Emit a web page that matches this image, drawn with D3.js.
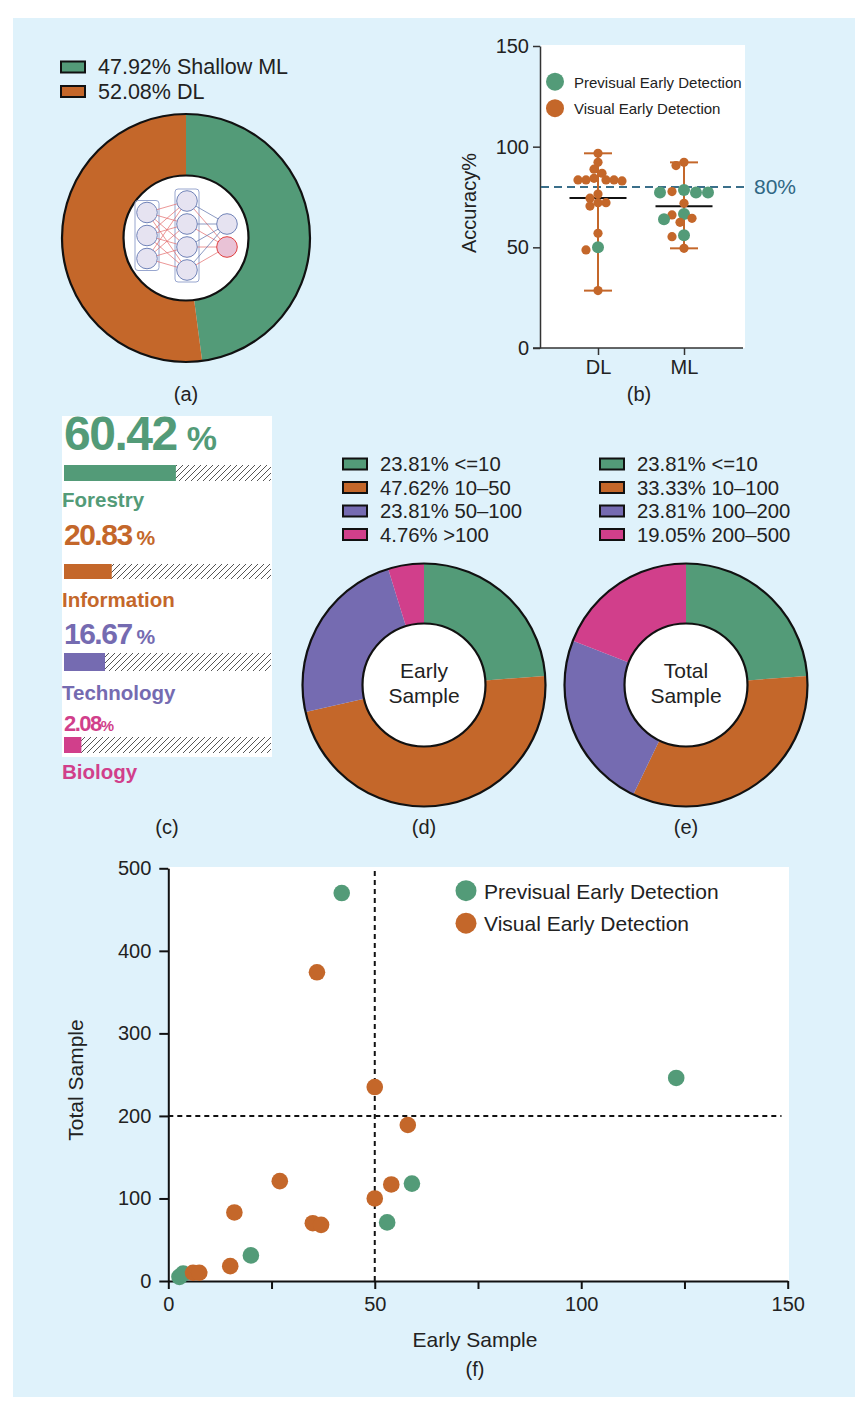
<!DOCTYPE html>
<html>
<head>
<meta charset="utf-8">
<script src="https://cdn.jsdelivr.net/npm/d3@7"></script>
<style>
  body { margin: 0; background: #fff; }
  svg text { font-family: "Liberation Sans", Arial, Helvetica, sans-serif; fill: #222; }
</style>
</head>
<body>
<div id="chart"></div>
<script>
// (a) share of methods
const methodLabels = ["Shallow ML", "DL"];
const methodShares = [47.92, 52.08];
const nnLayers = [3, 4, 2]; // little network drawn in the hole

// (b) reported accuracy per study
const accGroups = ["DL", "ML"];
const dlPrevisual = [50];
const dlVisual = [96.7, 92.2, 88.8, 86.8, 84.3, 83.5, 83.5, 83.5, 83.5, 83, 76.5, 74.4, 72.2, 72.2, 70.5, 57, 48.7, 28.5];
const mlPrevisual = [78.5, 77.2, 77.2, 77.2, 66.6, 63.9, 56];
const mlVisual = [92.2, 90.6, 77.7, 71.9, 66.1, 64.4, 62.4, 55.3, 49.5];
const accTicks = [0, 50, 100, 150];
const accThreshold = 80;

// (c) application fields
const fieldNames = ["Forestry", "Information", "Technology", "Biology"];
const fieldShares = [60.42, 20.83, 16.67, 2.08];

// (d) early sample size
const earlyBins = ["<=10", "10–50", "50–100", ">100"];
const earlyShares = [23.81, 47.62, 23.81, 4.76];

// (e) total sample size
const totalBins = ["<=10", "10–100", "100–200", "200–500"];
const totalShares = [23.81, 33.33, 23.81, 19.05];

// (f) early vs total sample
const seriesNames = ["Previsual Early Detection", "Visual Early Detection"];
const previsualEarly = [42, 20, 2.7, 3.6, 53, 59, 123];
const previsualTotal = [470, 31, 5, 9, 71, 118, 246];
const visualEarly = [36, 50, 58, 27, 54, 50, 16, 35, 37, 15, 6, 7.5];
const visualTotal = [374, 235, 189, 121, 117, 100, 83, 70, 68, 18, 10, 10];
const earlyTicks = [0, 25, 50, 75, 100, 125, 150];
const totalTicks = [0, 100, 200, 300, 400, 500];

const green = "#539b78", orange = "#c4672a", purple = "#756bb1", pink = "#d13f8b";
const palette = [green, orange, purple, pink];

const svg = d3.select("#chart").append("svg")
    .attr("width", 868)
    .attr("height", 1406);

svg.append("rect")
    .attr("x", 13).attr("y", 18)
    .attr("width", 842).attr("height", 1379)
    .attr("fill", "#dff2fb");

// hatch for the bars in (c)
svg.append("defs").append("pattern")
    .attr("id", "hatch")
    .attr("patternUnits", "userSpaceOnUse")
    .attr("width", 6).attr("height", 6)
    .append("path")
    .attr("d", "M0,6 L6,0 M-1.5,1.5 L1.5,-1.5 M4.5,7.5 L7.5,4.5")
    .attr("stroke", "#555")
    .attr("stroke-width", 1);

function panelLabel(x, y, t) {
    svg.append("text")
        .attr("x", x).attr("y", y)
        .attr("text-anchor", "middle")
        .attr("font-size", "20px")
        .text(t);
}

function donut(cx, cy, shares, rOuter, rInner) {
    const g = svg.append("g").attr("transform", `translate(${cx},${cy})`);
    const arcs = d3.pie().sort(null)(shares);
    const arc = d3.arc().innerRadius(rInner).outerRadius(rOuter);
    g.selectAll("path.slice")
        .data(arcs)
        .join("path")
        .attr("class", "slice")
        .attr("d", arc)
        .attr("fill", (d, i) => palette[i]);
    g.append("circle").attr("r", rOuter)
        .attr("fill", "none").attr("stroke", "#111").attr("stroke-width", 2.2);
    g.append("circle").attr("r", rInner)
        .attr("fill", "#fff").attr("stroke", "#111").attr("stroke-width", 2.2);
    return g;
}

function boxLegend(x, y0, step, labels, size) {
    const g = svg.append("g");
    const rows = g.selectAll("g").data(labels).join("g")
        .attr("transform", (d, i) => `translate(${x},${y0 + i * step})`);
    rows.append("rect")
        .attr("x", 0).attr("y", -5.5)
        .attr("width", 24).attr("height", 11)
        .attr("fill", (d, i) => palette[i])
        .attr("stroke", "#111").attr("stroke-width", 2);
    rows.append("text")
        .attr("x", 37).attr("y", 7)
        .attr("font-size", size + "px")
        .text(d => d);
}

const pct = v => v.toFixed(2) + "%";

// ---------- (a)
const gA = donut(186, 238, methodShares, 124, 62.5);
boxLegend(61, 67, 24.5, methodLabels.map((m, i) => pct(methodShares[i]) + " " + m), 21.5);

// network sketch
const nnX = d3.scalePoint().domain(d3.range(nnLayers.length)).range([-39, 41]);
const nodes = [];
nnLayers.forEach((n, l) => {
    d3.range(n).forEach(j => nodes.push({ l, j, x: nnX(l), y: -2.5 + (j - (n - 1) / 2) * 23 }));
});
const edges = [];
nodes.forEach(a => nodes.forEach(b => { if (b.l === a.l + 1) edges.push({ a, b }); }));

nnLayers.slice(0, 2).forEach((n, l) => {
    const h = (n - 1) * 23 + 24;
    gA.append("rect")
        .attr("x", nnX(l) - 12).attr("y", -2.5 - h / 2)
        .attr("width", 24).attr("height", h)
        .attr("rx", 3)
        .attr("fill", "none").attr("stroke", "#98a6cf").attr("stroke-width", 1);
});
gA.selectAll("line.edge").data(edges).join("line")
    .attr("class", "edge")
    .attr("x1", d => d.a.x).attr("y1", d => d.a.y)
    .attr("x2", d => d.b.x).attr("y2", d => d.b.y)
    .attr("stroke", d => (d.a.l === 0 || d.b.j === 1) ? "#e26a6a" : "#5a6ea8")
    .attr("stroke-width", 0.7);
gA.selectAll("circle.node").data(nodes).join("circle")
    .attr("class", "node")
    .attr("cx", d => d.x).attr("cy", d => d.y)
    .attr("r", 10.3)
    .attr("fill", d => d.l === 2 && d.j === 1 ? "#e9c2d6" : "#e6e3f1")
    .attr("stroke", d => d.l === 2 && d.j === 1 ? "#e04040" : "#7183b8")
    .attr("stroke-width", 1);
panelLabel(186, 401, "(a)");

// ---------- (b)
const yAcc = d3.scaleLinear().domain([0, 150]).range([348, 46]);
const xAcc = d3.scalePoint().domain(accGroups).range([598, 684]);

svg.append("rect")
    .attr("x", 541).attr("y", 45)
    .attr("width", 204).attr("height", 303)
    .attr("fill", "#fff");

const axB = svg.append("g").attr("transform", "translate(540,0)")
    .call(d3.axisLeft(yAcc).tickValues(accTicks).tickSize(7).tickSizeOuter(0).tickPadding(4));
axB.selectAll("text").attr("font-size", "20px").attr("fill", "#222").attr("font-family", null);
axB.selectAll("path,line").attr("stroke", "#333").attr("stroke-width", 1.5);

const axBx = svg.append("g").attr("transform", "translate(0,348)")
    .call(d3.axisBottom(xAcc).tickSize(7).tickPadding(5));
axBx.select(".domain").remove();
axBx.selectAll("text").attr("font-size", "20px").attr("fill", "#222").attr("font-family", null);
axBx.selectAll("line").attr("stroke", "#333").attr("stroke-width", 1.5);
svg.append("line")
    .attr("x1", 533).attr("x2", 743)
    .attr("y1", 348).attr("y2", 348)
    .attr("stroke", "#333").attr("stroke-width", 1.5);

svg.append("text")
    .attr("transform", `translate(476,${yAcc(72)}) rotate(-90)`)
    .attr("text-anchor", "middle")
    .attr("font-size", "20px")
    .text("Accuracy%");

svg.append("line")
    .attr("x1", 541).attr("x2", 745)
    .attr("y1", yAcc(accThreshold)).attr("y2", yAcc(accThreshold))
    .attr("stroke", "#3a6f8a").attr("stroke-width", 2)
    .attr("stroke-dasharray", "8,5");
svg.append("text")
    .attr("x", 754).attr("y", yAcc(accThreshold) + 7)
    .attr("font-size", "21px")
    .style("fill", "#2f6784")
    .text(accThreshold + "%");

const accSets = [
    { group: "DL", previsual: dlPrevisual, visual: dlVisual },
    { group: "ML", previsual: mlPrevisual, visual: mlVisual }
];

function swarm(points, step) {
    const placed = [];
    points.slice().sort((a, b) => b.v - a.v).forEach(p => {
        const py = yAcc(p.v);
        for (let k = 0; k < 40; k++) {
            const off = (k % 2 ? -1 : 1) * Math.ceil(k / 2) * step;
            const hit = placed.some(q => Math.hypot(off - q.off, py - yAcc(q.v)) < p.r + q.r - 1.5);
            if (!hit) { p.off = off; break; }
        }
        placed.push(p);
    });
    return placed;
}

accSets.forEach(s => {
    const cx = xAcc(s.group);
    const all = s.visual.concat(s.previsual);
    const [lo, hi] = d3.extent(all);
    const mean = d3.mean(all);
    const g = svg.append("g");
    g.append("line")
        .attr("x1", cx).attr("x2", cx)
        .attr("y1", yAcc(lo)).attr("y2", yAcc(hi))
        .attr("stroke", orange).attr("stroke-width", 2);
    [lo, hi].forEach(v => g.append("line")
        .attr("x1", cx - 14).attr("x2", cx + 14)
        .attr("y1", yAcc(v)).attr("y2", yAcc(v))
        .attr("stroke", orange).attr("stroke-width", 2));
    g.append("line")
        .attr("x1", cx - 28.5).attr("x2", cx + 28.5)
        .attr("y1", yAcc(mean)).attr("y2", yAcc(mean))
        .attr("stroke", "#111").attr("stroke-width", 2);
    const pts = swarm(
        s.visual.map(v => ({ v, r: 4.6, c: orange }))
            .concat(s.previsual.map(v => ({ v, r: 6, c: green }))), 4);
    g.selectAll("circle").data(pts).join("circle")
        .attr("cx", d => cx + d.off)
        .attr("cy", d => yAcc(d.v))
        .attr("r", d => d.r)
        .attr("fill", d => d.c);
});

const legB = svg.append("g").selectAll("g").data(seriesNames).join("g")
    .attr("transform", (d, i) => `translate(555,${81.7 + i * 26.5})`);
legB.append("circle").attr("r", 9).attr("fill", (d, i) => i ? orange : green);
legB.append("text").attr("x", 19).attr("y", 6).attr("font-size", "15px").text(d => d);
panelLabel(639, 401, "(b)");

// ---------- (c)
svg.append("rect")
    .attr("x", 62).attr("y", 416)
    .attr("width", 210).attr("height", 341)
    .attr("fill", "#fff");

const cRows = [
    { num: 450, numSize: 48, pctSize: 34, gap: 10, barY: 465, barH: 16, label: 507 },
    { num: 545, numSize: 30, pctSize: 21, gap: 5, barY: 564, barH: 15, label: 607 },
    { num: 644, numSize: 30, pctSize: 21, gap: 5, barY: 653, barH: 18, label: 700 },
    { num: 731, numSize: 22, pctSize: 15, gap: 0, barY: 737, barH: 16, label: 779 }
];
const barX = 64, barEnd = 271;
const barW = d3.scaleLinear().domain([0, 100]).range([14, 176]);

fieldNames.forEach((name, i) => {
    const r = cRows[i];
    const col = palette[i];
    const t = svg.append("text")
        .attr("x", 64).attr("y", r.num)
        .attr("font-weight", "bold")
        .style("fill", col);
    t.append("tspan")
        .attr("font-size", r.numSize + "px")
        .attr("letter-spacing", "-1.5px")
        .text(fieldShares[i].toFixed(2));
    t.append("tspan")
        .attr("dx", r.gap)
        .attr("font-size", r.pctSize + "px")
        .text("%");
    svg.append("rect")
        .attr("x", barX).attr("y", r.barY)
        .attr("width", barEnd - barX).attr("height", r.barH)
        .attr("fill", "url(#hatch)");
    svg.append("rect")
        .attr("x", barX).attr("y", r.barY)
        .attr("width", barW(fieldShares[i])).attr("height", r.barH)
        .attr("fill", col);
    svg.append("text")
        .attr("x", 62).attr("y", r.label)
        .attr("font-size", "20.5px")
        .attr("font-weight", "bold")
        .style("fill", col)
        .text(name);
});
panelLabel(167, 834, "(c)");

// ---------- (d) and (e)
[
    { cx: 424, shares: earlyShares, bins: earlyBins, legX: 343, words: ["Early", "Sample"], tag: "(d)" },
    { cx: 686, shares: totalShares, bins: totalBins, legX: 600, words: ["Total", "Sample"], tag: "(e)" }
].forEach(p => {
    const g = donut(p.cx, 685, p.shares, 121.5, 61.5);
    g.selectAll("text.center").data(p.words).join("text")
        .attr("class", "center")
        .attr("y", (d, i) => -7 + i * 25)
        .attr("text-anchor", "middle")
        .attr("font-size", "21px")
        .text(d => d);
    boxLegend(p.legX, 464, 23.5, p.bins.map((b, i) => pct(p.shares[i]) + " " + b), 20.3);
    panelLabel(p.cx, 834, p.tag);
});

// ---------- (f)
const xF = d3.scaleLinear().domain([0, 150]).range([168.3, 787.7]);
const yF = d3.scaleLinear().domain([0, 500]).range([1281, 868.3]);

svg.append("rect")
    .attr("x", 168).attr("y", 867)
    .attr("width", 621).attr("height", 414)
    .attr("fill", "#fff");

svg.append("line")
    .attr("x1", xF(50)).attr("x2", xF(50))
    .attr("y1", yF(0)).attr("y2", yF(500))
    .attr("stroke", "#111").attr("stroke-width", 2)
    .attr("stroke-dasharray", "5,4");
svg.append("line")
    .attr("x1", xF(0)).attr("x2", xF(148.5))
    .attr("y1", yF(200)).attr("y2", yF(200))
    .attr("stroke", "#111").attr("stroke-width", 2)
    .attr("stroke-dasharray", "5,4");

const axFy = svg.append("g").attr("transform", `translate(${xF(0)},0)`)
    .call(d3.axisLeft(yF).tickValues(totalTicks).tickSize(9).tickSizeOuter(0).tickPadding(8));
const axFx = svg.append("g").attr("transform", `translate(0,${yF(0)})`)
    .call(d3.axisBottom(xF).tickValues(earlyTicks).tickSize(8).tickSizeOuter(0).tickPadding(8)
        .tickFormat(d => d % 50 === 0 ? d : ""));
[axFy, axFx].forEach(a => {
    a.selectAll("text").attr("font-size", "20px").attr("fill", "#222").attr("font-family", null);
    a.selectAll("path,line").attr("stroke", "#111").attr("stroke-width", 2);
});

const prevPts = previsualEarly.map((e, i) => ({ e, t: previsualTotal[i] }));
const visPts = visualEarly.map((e, i) => ({ e, t: visualTotal[i] }));
svg.append("g").selectAll("circle").data(prevPts).join("circle")
    .attr("cx", d => xF(d.e)).attr("cy", d => yF(d.t))
    .attr("r", 8.3).attr("fill", green);
svg.append("g").selectAll("circle").data(visPts).join("circle")
    .attr("cx", d => xF(d.e)).attr("cy", d => yF(d.t))
    .attr("r", 8.3).attr("fill", orange);

const legF = svg.append("g").selectAll("g").data(seriesNames).join("g")
    .attr("transform", (d, i) => `translate(466,${890.7 + i * 32.5})`);
legF.append("circle").attr("r", 10.5).attr("fill", (d, i) => i ? orange : green);
legF.append("text").attr("x", 18).attr("y", 8).attr("font-size", "21px").text(d => d);

svg.append("text")
    .attr("x", 475).attr("y", 1347)
    .attr("text-anchor", "middle")
    .attr("font-size", "21px")
    .text("Early Sample");
svg.append("text")
    .attr("transform", "translate(83,1080) rotate(-90)")
    .attr("text-anchor", "middle")
    .attr("font-size", "21px")
    .text("Total Sample");
panelLabel(475, 1376, "(f)");
</script>
</body>
</html>
